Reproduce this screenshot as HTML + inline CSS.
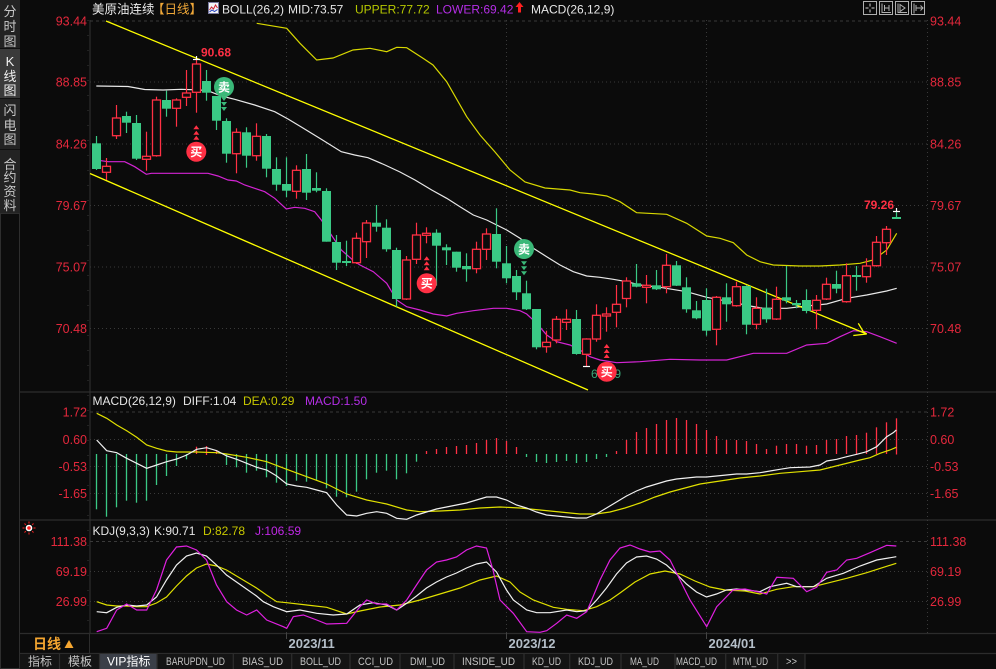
<!DOCTYPE html>
<html><head><meta charset="utf-8"><style>
html,body{margin:0;padding:0;background:#0b0b0b;overflow:hidden}
svg{display:block}
text{font-family:"Liberation Sans","Noto Sans CJK SC",sans-serif}
.cj{font-family:"Liberation Sans","Noto Sans CJK SC",sans-serif}
.ax{font-size:12.5px;fill:#e4283c}
.hd{font-size:12px}
.tab{font-family:"Liberation Mono","Noto Sans CJK SC",monospace;font-size:11px;fill:#c4c4c4}
</style></head><body>
<svg width="996" height="669" viewBox="0 0 996 669" xmlns="http://www.w3.org/2000/svg">
<rect width="996" height="669" fill="#0b0b0b"/>
<!-- sidebar -->
<rect x="0" y="0" width="20" height="213" fill="#232323"/>
<rect x="0" y="49" width="20" height="49" fill="#3a3a3a"/>
<line x1="0" y1="48.5" x2="20" y2="48.5" stroke="#111"/>
<line x1="0" y1="98.5" x2="20" y2="98.5" stroke="#111"/>
<line x1="0" y1="149.5" x2="20" y2="149.5" stroke="#111"/>
<rect x="0.5" y="213.5" width="19" height="455" fill="#0c0c0c" stroke="#2e2e2e"/>
<g class="cj" font-size="13" fill="#c8c8c8" text-anchor="middle">
<text x="10" y="16">分</text><text x="10" y="31">时</text><text x="10" y="46">图</text>
<text x="10" y="66" fill="#f0f0f0" font-family="Liberation Mono,monospace">K</text><text x="10" y="81" fill="#f0f0f0">线</text><text x="10" y="95" fill="#f0f0f0">图</text>
<text x="10" y="115">闪</text><text x="10" y="130">电</text><text x="10" y="144">图</text>
<text x="10" y="169">合</text><text x="10" y="182">约</text><text x="10" y="196">资</text><text x="10" y="210">料</text>
</g>
<!-- panel separators -->
<g stroke="#2c2c2c" stroke-width="1.2">
<line x1="20" y1="392" x2="996" y2="392"/>
<line x1="20" y1="520" x2="996" y2="520"/>
<line x1="20" y1="633.5" x2="996" y2="633.5"/>
<line x1="20" y1="653.5" x2="996" y2="653.5"/>
</g>
<line x1="90" y1="20" x2="90" y2="633" stroke="#333" stroke-width="1"/>
<line x1="89.5" y1="633" x2="89.5" y2="653" stroke="#2c2c2c"/>
<line x1="927.5" y1="20" x2="927.5" y2="633" stroke="#3a3a3a" stroke-dasharray="1,3"/>
<!-- grid -->
<g stroke="#3a3a3a" stroke-width="1" stroke-dasharray="1,3">
<line x1="90" y1="21" x2="927" y2="21" stroke-dasharray="3,3"/>
<line x1="90" y1="82" x2="927" y2="82"/>
<line x1="90" y1="144" x2="927" y2="144"/>
<line x1="90" y1="205.5" x2="927" y2="205.5"/>
<line x1="90" y1="267" x2="927" y2="267"/>
<line x1="90" y1="328.5" x2="927" y2="328.5"/>
<line x1="90" y1="412" x2="927" y2="412" stroke-dasharray="3,3"/>
<line x1="90" y1="439.5" x2="927" y2="439.5"/>
<line x1="90" y1="466.5" x2="927" y2="466.5"/>
<line x1="90" y1="493.5" x2="927" y2="493.5"/>
<line x1="90" y1="541.5" x2="927" y2="541.5" stroke-dasharray="3,3"/>
<line x1="90" y1="571.5" x2="927" y2="571.5"/>
<line x1="90" y1="601.5" x2="927" y2="601.5"/>
<line x1="286.5" y1="20" x2="286.5" y2="633"/>
<line x1="506.5" y1="20" x2="506.5" y2="633"/>
<line x1="706.5" y1="20" x2="706.5" y2="633"/>
</g>
<line x1="88" y1="20" x2="88" y2="633" stroke="#3a3a3a" stroke-dasharray="1,14"/>
<!-- axis labels left -->
<g class="ax" text-anchor="end">
<text x="87" y="25.5">93.44</text><text x="87" y="86.5">88.85</text><text x="87" y="148.5">84.26</text>
<text x="87" y="210">79.67</text><text x="87" y="271.5">75.07</text><text x="87" y="333">70.48</text>
<text x="87" y="416.5">1.72</text><text x="87" y="444">0.60</text><text x="87" y="471">-0.53</text><text x="87" y="498">-1.65</text>
<text x="87" y="546">111.38</text><text x="87" y="576">69.19</text><text x="87" y="606">26.99</text>
</g>
<g class="ax">
<text x="930" y="25.5">93.44</text><text x="930" y="86.5">88.85</text><text x="930" y="148.5">84.26</text>
<text x="930" y="210">79.67</text><text x="930" y="271.5">75.07</text><text x="930" y="333">70.48</text>
<text x="930" y="416.5">1.72</text><text x="930" y="444">0.60</text><text x="930" y="471">-0.53</text><text x="930" y="498">-1.65</text>
<text x="930" y="546">111.38</text><text x="930" y="576">69.19</text><text x="930" y="606">26.99</text>
</g>
<!-- header -->
<g class="hd">
<text x="92" y="13.5" fill="#ececec" font-size="12.5">美原油连续</text>
<text x="152" y="13.5" fill="#f0a838" font-size="12.5">【日线】</text>
<rect x="208.5" y="2.5" width="10" height="11" fill="#f4f4f4" stroke="#7a7aa0"/>
<polyline points="209.5,10 211.5,7 213.5,9 215.5,5 217.5,8" fill="none" stroke="#d02030" stroke-width="1"/>
<polyline points="209.5,12 212,10 214.5,11.5 217.5,9.5" fill="none" stroke="#2040c0" stroke-width="1"/>
<text x="222" y="13.5" fill="#e6e6e6">BOLL(26,2)</text>
<text x="288" y="13.5" fill="#e6e6e6">MID:73.57</text>
<text x="355" y="13.5" fill="#b6c800">UPPER:77.72</text>
<text x="436" y="13.5" fill="#b42ee6">LOWER:69.42</text>
<path d="M519.5 2 L515.5 7 L518 7 L518 12.5 L521 12.5 L521 7 L523.5 7 Z" fill="#ff2020"/>
<text x="531" y="13.5" fill="#e6e6e6">MACD(26,12,9)</text>
</g>
<!-- top right icons -->
<g fill="none" stroke="#b0b0b0" stroke-width="1">
<rect x="863.5" y="1.5" width="13" height="13"/><rect x="879.5" y="1.5" width="13" height="13"/>
<rect x="895.5" y="1.5" width="13" height="13"/><rect x="911.5" y="1.5" width="13" height="13"/>
<path d="M870 3.5v3M870 9.5v3M865.5 8h3M871.5 8h3" stroke="#d0d0d0"/>
<path d="M882 3.5v9h9M884.5 5v6M889 5v6M884.5 8h4.5"/>
<path d="M898 3.5v9h9M900 4.5l5 3.5-5 3.5z"/>
<path d="M914 3.5v10M916 8h7M920.5 5.5l2.5 2.5-2.5 2.5M916 5v6"/>
</g>
<!-- BOLL lines -->
<g fill="none" stroke-width="1.2">
<polyline stroke="#d8d800" points="256.7,23.3 286.7,28.3 300,43.3 316.7,60 333,58 353,50 370,48.3 386.7,51.7 396.7,47.3 406.7,47.7 423,58.3 433,65 446.7,81.7 466.7,116.7 480,135 495,152 510,170 525,182 545,188 570,190 580,192.7 593.3,194 606.7,196 620,201.7 636.7,212.7 666.7,214.3 686.7,223.3 706.7,236 720,238.3 733.3,242.7 746.7,255 760,261.7 773.3,265 800,266 820,266 840,265 860,263.3 873.3,260 886.7,250 896.7,233.3"/>
<polyline stroke="#e8e8e8" points="96.3,86 128,86.5 144.7,89.5 163,90 181.3,89.3 200,90 208,90.7 221.3,96 234.7,99.3 254.7,105 274.7,111.7 288,119 301.3,127 321.3,139.3 341.3,151.7 354.7,155 368,157.7 385,165 400,172 415,180 431.7,190 446.7,198.3 460,206.7 473.3,215 486.7,220 496.7,225 506.7,230 520,238.3 533.3,248.3 546.7,256.7 560,265 573.3,271.7 586.7,276 600,277.3 613.3,279.3 626.7,281.7 640,285 660,287.3 686.7,291.7 706.7,297.3 730,301.7 750,306 763.3,308.3 786.7,308.3 806.7,306 826.7,304 846.7,298.3 866.7,295 886.7,291 896.7,288.3"/>
<polyline stroke="#d424d4" points="96.3,160 108,161.7 124.7,161.7 134.7,166.7 146.3,174.3 151.3,173.3 171.3,173.3 208,173.3 218,176 228,180 236.3,181 244.7,185 254.7,188.3 264.7,191.7 274.7,198.3 286.3,209 294.7,207.3 304.7,208.3 314.7,211.7 321.3,220 328,230 334.7,240 341.3,250 354.7,261.7 360,265 373.3,271.7 386.7,283.3 396.7,300 406.7,306.7 420,310 433.3,314 446.7,316 456.7,313.3 473.3,310.7 493.3,308.3 506.7,308.3 520,310.7 526.7,314 536.7,323.3 546.7,335 556.7,341.7 570,345 580,350 590,356.7 600,360 616.7,362.7 640,361.7 670,359.3 700,360 726.7,360 753.3,353.3 786.7,353.3 806.7,345 826.7,343.3 840,336.7 853.3,330.7 866.7,331.7 880,336.7 896.7,343.3"/>
</g>
<!-- trend lines -->
<g stroke="#ffff00" stroke-width="1.3" fill="none">
<line x1="106" y1="21" x2="866.7" y2="334"/>
<line x1="90" y1="173.5" x2="588" y2="390"/>
<polyline points="858.3,323.3 863.3,331.7 866.7,334"/>
<line x1="853.3" y1="335.5" x2="866.7" y2="334"/>
</g>
<!-- green wicks -->
<g stroke="#3ac985" stroke-width="1.2">
<line x1="96.5" y1="136" x2="96.5" y2="170"/><line x1="126.5" y1="111.7" x2="126.5" y2="133"/><line x1="136.5" y1="115" x2="136.5" y2="160"/><line x1="166.5" y1="90.7" x2="166.5" y2="116.7"/><line x1="206.5" y1="70" x2="206.5" y2="100.7"/><line x1="216.5" y1="96" x2="216.5" y2="130"/><line x1="226.5" y1="118.3" x2="226.5" y2="162.7"/><line x1="246.5" y1="127.3" x2="246.5" y2="167.7"/><line x1="266.5" y1="134" x2="266.5" y2="177.3"/><line x1="276.5" y1="157.3" x2="276.5" y2="190.7"/><line x1="286.5" y1="157.3" x2="286.5" y2="197.3"/><line x1="306.5" y1="154" x2="306.5" y2="200"/><line x1="316.5" y1="172.3" x2="316.5" y2="192.3"/><line x1="326.5" y1="188.3" x2="326.5" y2="241.7"/><line x1="336.5" y1="235" x2="336.5" y2="270"/><line x1="346.5" y1="240.7" x2="346.5" y2="266"/><line x1="376.5" y1="205" x2="376.5" y2="231.7"/><line x1="386.5" y1="219.3" x2="386.5" y2="251.7"/><line x1="396.5" y1="247.7" x2="396.5" y2="306.7"/><line x1="436.5" y1="229.3" x2="436.5" y2="285.7"/><line x1="446.5" y1="244.3" x2="446.5" y2="265"/><line x1="456.5" y1="251.7" x2="456.5" y2="271.7"/><line x1="466.5" y1="253.3" x2="466.5" y2="281.7"/><line x1="496.5" y1="208.3" x2="496.5" y2="268.3"/><line x1="506.5" y1="246" x2="506.5" y2="283.3"/><line x1="516.5" y1="270" x2="516.5" y2="300"/><line x1="526.5" y1="280.7" x2="526.5" y2="310"/><line x1="536.5" y1="309" x2="536.5" y2="349.3"/><line x1="576.5" y1="310" x2="576.5" y2="354.7"/><line x1="636.5" y1="264" x2="636.5" y2="287.3"/><line x1="656.5" y1="270" x2="656.5" y2="290"/><line x1="676.5" y1="261" x2="676.5" y2="286"/><line x1="686.5" y1="277.3" x2="686.5" y2="312.7"/><line x1="696.5" y1="301" x2="696.5" y2="319.3"/><line x1="706.5" y1="288.3" x2="706.5" y2="335.7"/><line x1="726.5" y1="283.3" x2="726.5" y2="321.7"/><line x1="746.5" y1="285.3" x2="746.5" y2="334.3"/><line x1="766.5" y1="288.7" x2="766.5" y2="322.7"/><line x1="786.5" y1="266" x2="786.5" y2="303.3"/><line x1="796.5" y1="300" x2="796.5" y2="308.3"/><line x1="806.5" y1="289.3" x2="806.5" y2="313.3"/><line x1="836.5" y1="270.7" x2="836.5" y2="293.3"/><line x1="856.5" y1="266" x2="856.5" y2="290.7"/><line x1="896.5" y1="210.7" x2="896.5" y2="218.7"/>
</g>
<!-- green bodies -->
<g fill="#3ac985">
<rect x="92" y="143.3" width="9" height="25.7"/><rect x="122" y="116" width="9" height="6.7"/><rect x="132" y="123" width="9" height="35.7"/><rect x="162" y="100" width="9" height="8.7"/><rect x="202" y="81" width="9" height="11.7"/><rect x="212" y="96" width="9" height="24.7"/><rect x="222" y="121" width="9" height="32.7"/><rect x="242" y="132.3" width="9" height="23.4"/><rect x="262" y="136" width="9" height="32.7"/><rect x="272" y="169" width="9" height="15.7"/><rect x="282" y="184" width="9" height="6.7"/><rect x="302" y="169" width="9" height="23.7"/><rect x="312" y="188" width="9" height="2.7"/><rect x="322" y="191" width="9" height="50.7"/><rect x="332" y="242" width="9" height="20.7"/><rect x="342" y="261" width="9" height="2"/><rect x="372" y="222.7" width="9" height="4"/><rect x="382" y="227.7" width="9" height="21.6"/><rect x="392" y="250" width="9" height="49"/><rect x="432" y="232.7" width="9" height="13"/><rect x="442" y="247.3" width="9" height="3"/><rect x="452" y="251.7" width="9" height="16"/><rect x="462" y="266" width="9" height="3.3"/><rect x="492" y="234" width="9" height="27.7"/><rect x="502" y="263.3" width="9" height="15"/><rect x="512" y="276" width="9" height="16.3"/><rect x="522" y="293.3" width="9" height="16"/><rect x="532" y="309" width="9" height="38.3"/><rect x="572" y="319" width="9" height="35"/><rect x="632" y="283.3" width="9" height="3.4"/><rect x="652" y="285.3" width="9" height="4"/><rect x="672" y="265.3" width="9" height="20.4"/><rect x="682" y="287.3" width="9" height="22"/><rect x="692" y="310.3" width="9" height="8"/><rect x="702" y="300" width="9" height="30.7"/><rect x="722" y="297.3" width="9" height="7"/><rect x="742" y="286" width="9" height="38.7"/><rect x="762" y="307.7" width="9" height="11.6"/><rect x="782" y="297.3" width="9" height="3.4"/><rect x="792" y="303" width="9" height="2.3"/><rect x="802" y="300" width="9" height="11"/><rect x="832" y="284" width="9" height="4.7"/><rect x="852" y="275" width="9" height="2"/><rect x="892" y="217" width="9" height="2"/>
</g>
<!-- red wicks -->
<g stroke="#ff3044" stroke-width="1.2">
<line x1="106.5" y1="158" x2="106.5" y2="180"/><line x1="116.5" y1="105" x2="116.5" y2="139"/><line x1="146.5" y1="131.7" x2="146.5" y2="170.7"/><line x1="156.5" y1="96.7" x2="156.5" y2="156.7"/><line x1="176.5" y1="98.3" x2="176.5" y2="126.7"/><line x1="186.5" y1="70" x2="186.5" y2="106"/><line x1="196.5" y1="59" x2="196.5" y2="112.7"/><line x1="236.5" y1="128.3" x2="236.5" y2="173.3"/><line x1="256.5" y1="123.3" x2="256.5" y2="160.7"/><line x1="296.5" y1="165.3" x2="296.5" y2="198.7"/><line x1="356.5" y1="232.7" x2="356.5" y2="264"/><line x1="366.5" y1="220" x2="366.5" y2="258"/><line x1="406.5" y1="256" x2="406.5" y2="300"/><line x1="416.5" y1="222.7" x2="416.5" y2="264"/><line x1="426.5" y1="227.3" x2="426.5" y2="243.3"/><line x1="476.5" y1="241.7" x2="476.5" y2="273.3"/><line x1="486.5" y1="228.3" x2="486.5" y2="260"/><line x1="546.5" y1="330.7" x2="546.5" y2="352.7"/><line x1="556.5" y1="316" x2="556.5" y2="343.3"/><line x1="566.5" y1="309.3" x2="566.5" y2="330"/><line x1="586.5" y1="338.3" x2="586.5" y2="366.7"/><line x1="596.5" y1="304.3" x2="596.5" y2="341.7"/><line x1="606.5" y1="307.3" x2="606.5" y2="331.7"/><line x1="616.5" y1="285" x2="616.5" y2="327.3"/><line x1="626.5" y1="277.3" x2="626.5" y2="307.3"/><line x1="646.5" y1="275" x2="646.5" y2="303.3"/><line x1="666.5" y1="254" x2="666.5" y2="293.3"/><line x1="716.5" y1="296" x2="716.5" y2="345.3"/><line x1="736.5" y1="281.7" x2="736.5" y2="306.7"/><line x1="756.5" y1="297.3" x2="756.5" y2="329.3"/><line x1="776.5" y1="286.7" x2="776.5" y2="320"/><line x1="816.5" y1="295" x2="816.5" y2="329.3"/><line x1="826.5" y1="277.7" x2="826.5" y2="300"/><line x1="846.5" y1="263.3" x2="846.5" y2="302.7"/><line x1="866.5" y1="258.3" x2="866.5" y2="282.7"/><line x1="876.5" y1="236" x2="876.5" y2="266.7"/><line x1="886.5" y1="226" x2="886.5" y2="255"/>
</g>
<!-- red bodies -->
<g fill="#0b0b0b" stroke="#ff3044" stroke-width="1.3">
<rect x="102.5" y="166.3" width="8" height="6"/><rect x="112.5" y="118" width="8" height="17.7"/><rect x="142.5" y="156.3" width="8" height="3"/><rect x="152.5" y="100" width="8" height="55.7"/><rect x="172.5" y="100" width="8" height="8.3"/><rect x="182.5" y="93" width="8" height="4.3"/><rect x="192.5" y="64" width="8" height="28.3"/><rect x="232.5" y="132.3" width="8" height="21.4"/><rect x="252.5" y="136.3" width="8" height="19.4"/><rect x="292.5" y="170.3" width="8" height="21"/><rect x="352.5" y="238.3" width="8" height="24.4"/><rect x="362.5" y="223" width="8" height="18.7"/><rect x="402.5" y="260" width="8" height="39"/><rect x="412.5" y="235" width="8" height="24.3"/><rect x="422.5" y="233.3" width="8" height="2"/><rect x="472.5" y="249.3" width="8" height="19.4"/><rect x="482.5" y="234" width="8" height="15.3"/><rect x="542.5" y="342.3" width="8" height="4.4"/><rect x="552.5" y="319.3" width="8" height="20.7"/><rect x="562.5" y="319.3" width="8" height="3"/><rect x="582.5" y="339" width="8" height="15.3"/><rect x="592.5" y="315.3" width="8" height="23.7"/><rect x="602.5" y="314" width="8" height="2"/><rect x="612.5" y="304.3" width="8" height="8"/><rect x="622.5" y="281" width="8" height="17.5"/><rect x="642.5" y="285.3" width="8" height="2"/><rect x="662.5" y="265.3" width="8" height="21.4"/><rect x="712.5" y="297.3" width="8" height="32"/><rect x="732.5" y="286.7" width="8" height="19"/><rect x="752.5" y="308.3" width="8" height="16"/><rect x="772.5" y="299.3" width="8" height="19.7"/><rect x="812.5" y="300.3" width="8" height="10"/><rect x="822.5" y="284.3" width="8" height="14.7"/><rect x="842.5" y="275.7" width="8" height="26"/><rect x="862.5" y="266" width="8" height="10.7"/><rect x="872.5" y="242.3" width="8" height="23.4"/><rect x="882.5" y="229.3" width="8" height="13.4"/>
</g>
<!-- high/low markers -->
<g stroke="#ffffff" stroke-width="1.2">
<line x1="193" y1="59.5" x2="200" y2="59.5"/><line x1="196.5" y1="56" x2="196.5" y2="60"/>
<line x1="583" y1="366.5" x2="590" y2="366.5"/>
<line x1="893" y1="211.5" x2="900" y2="211.5"/><line x1="896.5" y1="208" x2="896.5" y2="212"/>
</g>
<text x="201" y="56.5" font-size="12" font-weight="bold" fill="#ff3044">90.68</text>
<text x="864" y="209" font-size="12" font-weight="bold" fill="#ff3044">79.26</text>
<text x="591" y="378" font-size="12" fill="#3aa878">67.79</text>
<!-- signals -->
<g fill="#ff3044">
<path d="M193.3 129.3h6l-3-4z M193.3 134.7h6l-3-4z M193.3 139.7h6l-3-4z"/>
<path d="M423.7 260.3h6l-3-4z M423.7 265.3h6l-3-4z M423.7 270.3h6l-3-4z"/>
<path d="M603.7 348h6l-3-4z M603.7 353h6l-3-4z M603.7 358h6l-3-4z"/>
<circle cx="196.3" cy="151.7" r="10"/><circle cx="426.7" cy="283.3" r="10"/><circle cx="606.7" cy="371.7" r="10"/>
</g>
<g fill="#3ab878">
<path d="M221 97h6l-3 4z M221 102h6l-3 4z M221 107h6l-3 4z"/>
<path d="M521 261.3h6l-3 4z M521 266.3h6l-3 4z M521 271.3h6l-3 4z"/>
<circle cx="224" cy="87" r="10"/><circle cx="524" cy="249" r="10"/>
</g>
<g font-size="12" fill="#ffffff" text-anchor="middle" font-weight="bold">
<text x="196.3" y="156">买</text><text x="426.7" y="287.6">买</text><text x="606.7" y="376">买</text>
<text x="224" y="91.3">卖</text><text x="524" y="253.3">卖</text>
</g>
<!-- MACD panel -->
<g class="hd">
<text x="92.5" y="405" fill="#e6e6e6">MACD(26,12,9)</text>
<text x="183" y="405" fill="#e6e6e6">DIFF:1.04</text>
<text x="243" y="405" fill="#c8c800">DEA:0.29</text>
<text x="305" y="405" fill="#b42ee6">MACD:1.50</text>
</g>
<g stroke="#3ac985" stroke-width="1.3">
<line x1="96.5" y1="454" x2="96.5" y2="509.3"/><line x1="106.5" y1="454" x2="106.5" y2="516.7"/><line x1="116.5" y1="454" x2="116.5" y2="507.3"/><line x1="126.5" y1="454" x2="126.5" y2="500.7"/><line x1="136.5" y1="454" x2="136.5" y2="502.7"/><line x1="146.5" y1="454" x2="146.5" y2="500.7"/><line x1="156.5" y1="454" x2="156.5" y2="485"/><line x1="166.5" y1="454" x2="166.5" y2="476"/><line x1="176.5" y1="454" x2="176.5" y2="466"/><line x1="186.5" y1="454" x2="186.5" y2="459.3"/>
<line x1="226.5" y1="454" x2="226.5" y2="465"/><line x1="236.5" y1="454" x2="236.5" y2="467.3"/><line x1="246.5" y1="454" x2="246.5" y2="472.7"/><line x1="256.5" y1="454" x2="256.5" y2="470.7"/><line x1="266.5" y1="454" x2="266.5" y2="477.3"/><line x1="276.5" y1="454" x2="276.5" y2="482.7"/><line x1="286.5" y1="454" x2="286.5" y2="486"/><line x1="296.5" y1="454" x2="296.5" y2="480.7"/><line x1="306.5" y1="454" x2="306.5" y2="481.7"/><line x1="316.5" y1="454" x2="316.5" y2="480"/><line x1="326.5" y1="454" x2="326.5" y2="488.3"/><line x1="336.5" y1="454" x2="336.5" y2="496.7"/><line x1="346.5" y1="454" x2="346.5" y2="497.3"/><line x1="356.5" y1="454" x2="356.5" y2="491.7"/><line x1="366.5" y1="454" x2="366.5" y2="479.3"/><line x1="376.5" y1="454" x2="376.5" y2="472.7"/><line x1="386.5" y1="454" x2="386.5" y2="470.7"/><line x1="396.5" y1="454" x2="396.5" y2="479.3"/><line x1="406.5" y1="454" x2="406.5" y2="473.3"/><line x1="416.5" y1="454" x2="416.5" y2="461.7"/>
<line x1="526.5" y1="454" x2="526.5" y2="457"/><line x1="536.5" y1="454" x2="536.5" y2="462"/><line x1="546.5" y1="454" x2="546.5" y2="463"/><line x1="556.5" y1="454" x2="556.5" y2="462"/><line x1="566.5" y1="454" x2="566.5" y2="461"/><line x1="576.5" y1="454" x2="576.5" y2="463"/><line x1="586.5" y1="454" x2="586.5" y2="462"/><line x1="596.5" y1="454" x2="596.5" y2="459"/><line x1="606.5" y1="454" x2="606.5" y2="457"/>
</g>
<g stroke="#ff3044" stroke-width="1.3">
<line x1="196.5" y1="454" x2="196.5" y2="446.7"/><line x1="206.5" y1="455" x2="206.5" y2="446"/><line x1="216.5" y1="454" x2="216.5" y2="451"/>
<line x1="426.5" y1="454" x2="426.5" y2="451"/><line x1="436.5" y1="454" x2="436.5" y2="449"/><line x1="446.5" y1="454" x2="446.5" y2="447"/><line x1="456.5" y1="454" x2="456.5" y2="446"/><line x1="466.5" y1="454" x2="466.5" y2="445"/><line x1="476.5" y1="454" x2="476.5" y2="443"/><line x1="486.5" y1="454" x2="486.5" y2="440"/><line x1="496.5" y1="454" x2="496.5" y2="438"/><line x1="506.5" y1="454" x2="506.5" y2="441"/><line x1="516.5" y1="454" x2="516.5" y2="447"/>
<line x1="616.5" y1="454" x2="616.5" y2="451"/><line x1="626.5" y1="454" x2="626.5" y2="440"/><line x1="636.5" y1="454" x2="636.5" y2="432"/><line x1="646.5" y1="454" x2="646.5" y2="428"/><line x1="656.5" y1="454" x2="656.5" y2="424"/><line x1="666.5" y1="454" x2="666.5" y2="420"/><line x1="676.5" y1="454" x2="676.5" y2="418"/><line x1="686.5" y1="454" x2="686.5" y2="420"/><line x1="696.5" y1="454" x2="696.5" y2="424"/><line x1="706.5" y1="454" x2="706.5" y2="430"/><line x1="716.5" y1="454" x2="716.5" y2="436"/><line x1="726.5" y1="454" x2="726.5" y2="440"/><line x1="736.5" y1="454" x2="736.5" y2="440"/><line x1="746.5" y1="454" x2="746.5" y2="441"/><line x1="756.5" y1="454" x2="756.5" y2="444"/><line x1="766.5" y1="454" x2="766.5" y2="449"/><line x1="776.5" y1="454" x2="776.5" y2="445.7"/><line x1="786.5" y1="454" x2="786.5" y2="444"/><line x1="796.5" y1="454" x2="796.5" y2="444"/><line x1="806.5" y1="454" x2="806.5" y2="445.7"/><line x1="816.5" y1="454" x2="816.5" y2="445"/><line x1="826.5" y1="454" x2="826.5" y2="440"/><line x1="836.5" y1="454" x2="836.5" y2="439"/><line x1="846.5" y1="454" x2="846.5" y2="436"/><line x1="856.5" y1="454" x2="856.5" y2="435"/><line x1="866.5" y1="454" x2="866.5" y2="432.7"/><line x1="876.5" y1="454" x2="876.5" y2="427.3"/><line x1="886.5" y1="454" x2="886.5" y2="422.3"/><line x1="896.5" y1="454.5" x2="896.5" y2="418.3"/>
</g>
<g fill="none" stroke-width="1.2">
<polyline stroke="#e0e000" points="96.7,413.3 106.7,418.3 116.7,425 126.7,430.7 136.7,437.3 146.7,445 156.7,448.3 166.7,451 176.7,452 196.7,452 216.7,452.7 226.7,454 246.7,457.3 266.7,461.7 286.7,469.3 306.7,476.7 326.7,484 346.7,494 366.7,500 386.7,504 406.7,510 420,511.7 440,511 460,510 480,508 500,507 520,508 540,510 560,512 580,514 596,514 610,512 625,508 640,503 655,497 670,492 685,488 700,484 720,481 740,478 760,476 780,473.3 800,471.7 820,470 840,465 860,460 870,457.7 880,453.3 890,450 896.3,447.3"/>
<polyline stroke="#f0f0f0" points="96.7,440 106.7,450.7 116.7,452.7 126.7,458.3 136.7,463.3 146.7,468.3 156.7,465 166.7,461.7 176.7,459 186.7,455 196.7,449.3 206.7,447.7 216.7,450.7 226.7,456 236.7,459.3 246.7,463.3 256.7,467.3 266.7,470 276.7,476 286.7,484 296.7,486 306.7,487.3 316.7,490 326.7,492.7 336.7,505 346.7,515 356.7,516 366.7,513.3 376.7,511.7 386.7,513.3 396.7,518.3 406.7,519.3 416.7,515 426.5,512 436.5,509 446.5,507 456.5,505 466.5,503 476.5,500 486.5,497 496.5,497 506.5,500 516.5,505 526.5,508 536.5,512 546.5,515 556.5,516 566.5,517 576.5,518 586.5,518 596.5,514 606.5,508 616.5,502 626.5,496 636.5,491 646.5,487 656.5,484 666.5,481 676.5,479 686.5,478 696.5,477 706.5,477 716.5,476 726.5,475 736.5,474 746.5,474 760,472.7 770,471 780,469.3 790,467.7 810,467 820,465 826.7,461 836.7,459.3 846.7,456.7 856.7,454.3 866.7,451.7 876.7,446.7 886.7,436.7 893.3,432.7 896.3,430"/>
</g>
<!-- KDJ panel -->
<g>
<circle cx="29" cy="528" r="3.3" fill="#ffffff"/><circle cx="29" cy="528" r="1.8" fill="#ff2020"/>
<path d="M29 521.5v2M29 532.5v2M22.5 528h2M33.5 528h2M24.5 523.5l1.3 1.3M32.2 531.2l1.3 1.3M24.5 532.5l1.3-1.3M32.2 524.8l1.3-1.3" stroke="#ff2020" stroke-width="1"/>
</g>
<g class="hd">
<text x="92.5" y="535" fill="#e6e6e6">KDJ(9,3,3)</text>
<text x="154" y="535" fill="#e6e6e6">K:90.71</text>
<text x="203" y="535" fill="#c8c800">D:82.78</text>
<text x="255" y="535" fill="#c028e6">J:106.59</text>
</g>
<clipPath id="kc"><rect x="90" y="521" width="837" height="112"/></clipPath>
<g fill="none" stroke-width="1.2" clip-path="url(#kc)">
<polyline stroke="#e0e000" points="96.7,601.7 106.7,605 116.7,606 126.7,606 136.7,606.7 146.7,606.7 156.5,603 166.5,597 176.5,586 186.5,576 196.5,568 206.5,564 216.5,566 226.5,570 236.5,576 246.5,582 256.5,588 266.5,595 276.7,601.7 286.7,602.7 306.7,605 326.7,607.3 346.7,614 360,611 380,607 400,605 420,600 440,594 460,588 480,580 496.5,576 510,582 520,592 533.3,600 553.3,607.3 566.7,609.3 583.3,610.7 596.7,606.7 610,600 620,593 635,582 650,574 665,571 680,574 695,581 710,587 725,590 745,591 760,594 776.7,589.3 793.3,586.7 813.3,586.7 826.7,583.3 846.7,578.3 866.7,572.7 896.3,563.3"/>
<polyline stroke="#f0f0f0" points="96.7,611.7 106.7,612.7 116.7,607.3 126.7,605 136.7,606 146.7,605 156.5,597 166.5,580 176.5,565 186.5,556 196.5,553 206.5,556 216.5,565 226.5,575 236.5,582 246.5,589 256.5,596 263.3,601.7 273.3,606.7 286.7,611.7 300,610 316.7,613.3 333.3,615 346.7,614 360,605 373.3,602.7 386.7,605 396.7,610 406.7,603.3 416.5,596 426.5,588 436.5,582 446.5,577 456.5,573 466.5,568 476.5,564 486.5,562 496.5,572 506.5,590 513.3,600 526.7,610 536.7,612.7 550,612.7 566.7,610 576.7,611.7 586.7,610.7 596.7,600 606.5,588 616.5,574 626.5,563 636.5,557 646.5,556 656.5,559 666.5,565 676.5,574 686.5,584 696.5,592 706.5,597 716.5,594 726.5,590 736.5,589 746.5,590 760,591.7 770,586.7 786.7,583.3 796.7,586.7 813.3,586.7 826.7,578.3 843.3,573.3 860,566 876.7,560 896.3,556.7"/>
<polyline stroke="#e020e0" points="96.7,631.7 106.7,628.3 116.7,610 126.7,604 136.7,610 146.7,610 156.5,590 166.5,560 176.5,547 186.5,546 196.5,550 206.5,560 216.5,585 226.7,601.7 236.5,610 246.7,615 256.7,610 266.7,620 283.3,626.7 286.7,628.3 293.3,616.7 303.3,615 316.7,620 326.7,624 346.7,623.3 360,606.7 366.7,600 376.7,604 386.7,604 396.7,610 406.7,600 416.5,585 426.5,570 436.5,562 446.5,560 456.5,557 466.5,550 476.5,546 486.5,548 493,570 500,600 513.3,613.3 526.7,631.7 540,632.3 546.7,630.7 556.7,623.3 566.7,615 576.7,618.3 586.7,611.7 591.7,600 600,580 610,560 620,548 630,545 640,549 650,552 660,551 670,560 680,580 690,600 706.7,626.7 716.7,606.7 723.3,600 733,590 745,589 760,592.3 766.7,594 776.7,577.3 793.3,578.3 806.7,591.7 816.7,587.3 826.7,572.3 836.7,570 846.7,560 856.7,558.3 870,552.7 886.7,545.3 896.3,546"/>
</g>
<!-- date row -->
<g stroke="#444" stroke-width="1">
<line x1="286.5" y1="633" x2="286.5" y2="639"/><line x1="506.5" y1="633" x2="506.5" y2="639"/><line x1="706.5" y1="633" x2="706.5" y2="639"/>
</g>
<g font-size="13" font-weight="bold" fill="#b4bec8">
<text x="288.5" y="648">2023/11</text><text x="508.5" y="648">2023/12</text><text x="708.5" y="648">2024/01</text>
</g>
<text x="33" y="649" font-size="14" font-weight="bold" fill="#f5a630">日线</text>
<path d="M64.5 648 L69 640 L73.5 648 Z" fill="#f5a630"/>
<!-- tabs -->
<rect x="20" y="654" width="785" height="15" fill="#141414"/>
<rect x="100" y="654" width="57" height="15" fill="#3b3f48"/>
<g stroke="#2e2e2e" stroke-width="1.2">
<line x1="59.5" y1="654" x2="59.5" y2="669"/><line x1="99.5" y1="654" x2="99.5" y2="669"/><line x1="157" y1="654" x2="157" y2="669"/><line x1="233.3" y1="654" x2="233.3" y2="669"/><line x1="291.7" y1="654" x2="291.7" y2="669"/><line x1="350" y1="654" x2="350" y2="669"/><line x1="400" y1="654" x2="400" y2="669"/><line x1="454" y1="654" x2="454" y2="669"/><line x1="524" y1="654" x2="524" y2="669"/><line x1="569.7" y1="654" x2="569.7" y2="669"/><line x1="621" y1="654" x2="621" y2="669"/><line x1="675" y1="654" x2="675" y2="669"/><line x1="725.7" y1="654" x2="725.7" y2="669"/><line x1="777.7" y1="654" x2="777.7" y2="669"/><line x1="805" y1="654" x2="805" y2="669"/>
</g>
<g class="tab">
<text x="28" y="665.5" font-size="12">指标</text>
<text x="68" y="665.5" font-size="12">模板</text>
<text x="107" y="665.5" font-size="12" fill="#ffffff">VIP指标</text>
<text x="166" y="665" textLength="59" lengthAdjust="spacingAndGlyphs">BARUPDN_UD</text>
<text x="242" y="665" textLength="41" lengthAdjust="spacingAndGlyphs">BIAS_UD</text>
<text x="300" y="665" textLength="41" lengthAdjust="spacingAndGlyphs">BOLL_UD</text>
<text x="358" y="665" textLength="35" lengthAdjust="spacingAndGlyphs">CCI_UD</text>
<text x="410" y="665" textLength="35" lengthAdjust="spacingAndGlyphs">DMI_UD</text>
<text x="462" y="665" textLength="53" lengthAdjust="spacingAndGlyphs">INSIDE_UD</text>
<text x="532" y="665" textLength="29" lengthAdjust="spacingAndGlyphs">KD_UD</text>
<text x="578" y="665" textLength="35" lengthAdjust="spacingAndGlyphs">KDJ_UD</text>
<text x="630" y="665" textLength="29" lengthAdjust="spacingAndGlyphs">MA_UD</text>
<text x="676" y="665" textLength="41" lengthAdjust="spacingAndGlyphs">MACD_UD</text>
<text x="733" y="665" textLength="35" lengthAdjust="spacingAndGlyphs">MTM_UD</text>
<text x="786" y="665" textLength="11" lengthAdjust="spacingAndGlyphs">&gt;&gt;</text>
</g>
</svg>
</body></html>
